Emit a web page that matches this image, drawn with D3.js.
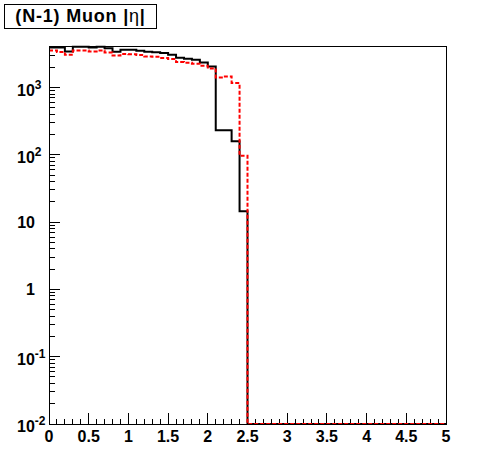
<!DOCTYPE html>
<html><head><meta charset="utf-8">
<script src="https://cdn.jsdelivr.net/npm/d3@7"></script>
<style>html,body{margin:0;padding:0;background:#fff;}svg{display:block;}</style>
</head><body>
<svg id="c" width="496" height="472"></svg>
<script>
// bin edges: 50 bins from 0 to 5
const binLow = 0, binHigh = 5, nBins = 50;
// black (solid) histogram contents, bins of 0.1 starting at 0
const blackValues = [3935,3935,3440,4030,4030,3935,4030,3830,3400,3640,
  3640,3515,3400,3340,3250,3070,2770,2675,2585,2357,
  2055,231,231,159,14.5,0,0,0,0,0,
  0,0,0,0,0,0,0,0,0,0,
  0,0,0,0,0,0,0,0,0,0];
// red (dashed) histogram contents
const redValues = [3550,3365,3070,3550,3550,3434,3550,3318,2993,3140,
  3115,3035,2890,2860,2740,2650,2390,2330,2255,2105,
  1920,1413,1462,1166,97,0,0,0,0,0,
  0,0,0,0,0,0,0,0,0,0,
  0,0,0,0,0,0,0,0,0,0];
const xTickLabels = ["0","0.5","1","1.5","2","2.5","3","3.5","4","4.5","5"];
const yTickLabels = [{v:1e-2,b:"10",e:"-2"},{v:1e-1,b:"10",e:"-1"},{v:1,b:"1",e:""},{v:10,b:"10",e:""},{v:100,b:"10",e:"2"},{v:1000,b:"10",e:"3"}];
const titleText = "(N-1) Muon |";
const titleEta = "η";

const L = 49, R = 446, T = 46, B = 424;
const yMin = 0.01, yMax = Math.pow(10, -2 + (B - T) / 67.3);
const svg = d3.select("#c");
const x = d3.scaleLinear().domain([binLow, binHigh]).range([L, R]);
const y = d3.scaleLog().domain([yMin, yMax]).range([B, T]);
const font = "'Liberation Sans', Arial, Helvetica, sans-serif";

// ticks x
const g = svg.append("g");
for (let i = 0; i <= 50; i++) {
  const v = i / 10;
  const major = i % 5 === 0;
  g.append("line").attr("x1", x(v)).attr("x2", x(v)).attr("y1", B).attr("y2", B - (major ? 11 : 5.5))
    .attr("stroke", "#000").attr("stroke-width", 1).attr("shape-rendering", "crispEdges");
}
xTickLabels.forEach((t, i) => {
  g.append("text").attr("x", x(i * 0.5)).attr("y", 442).attr("text-anchor", "middle")
    .attr("font-family", font).attr("font-weight", "bold").attr("font-size", 16).text(t);
});
// ticks y
for (let e = -2; e <= 3; e++) {
  for (let m = 1; m <= 9; m++) {
    const v = m * Math.pow(10, e);
    if (v > yMax) continue;
    const major = m === 1;
    g.append("line").attr("x1", L).attr("x2", L + (major ? 11 : 5.5)).attr("y1", y(v)).attr("y2", y(v))
      .attr("stroke", "#000").attr("stroke-width", 1).attr("shape-rendering", "crispEdges");
  }
}
yTickLabels.forEach(t => {
  const tx = g.append("text").attr("font-family", font).attr("font-weight", "bold").attr("font-size", 16)
    .attr("y", y(t.v) + (t.e ? 8 : 6));
  if (t.e) {
    tx.attr("x", 17).attr("text-anchor", "start");
    tx.append("tspan").text(t.b);
    tx.append("tspan").attr("font-size", 12).attr("dy", -7).text(t.e);
  } else {
    tx.attr("x", 35).attr("text-anchor", "end").text(t.b);
  }
});

// histograms
function stepPath(vals) {
  const p = d3.path();
  vals.forEach((v, i) => {
    const x0 = x(binLow + i * (binHigh - binLow) / nBins), x1 = x(binLow + (i + 1) * (binHigh - binLow) / nBins);
    const yy = v > yMin ? y(v) : B;
    if (i === 0) p.moveTo(x0, yy); else p.lineTo(x0, yy);
    p.lineTo(x1, yy);
  });
  return p.toString();
}
svg.append("path").attr("d", stepPath(blackValues)).attr("fill", "none").attr("stroke", "#000").attr("stroke-width", 2);
svg.append("path").attr("d", stepPath(redValues)).attr("fill", "none").attr("stroke", "#ff0000").attr("stroke-width", 2).attr("stroke-dasharray", "4,2");

// frame
svg.append("rect").attr("x", L).attr("y", T).attr("width", R - L).attr("height", B - T)
  .attr("fill", "none").attr("stroke", "#000").attr("stroke-width", 1).attr("shape-rendering", "crispEdges");

// title box
svg.append("rect").attr("x", 4.5).attr("y", 4.5).attr("width", 152).attr("height", 24)
  .attr("fill", "#fff").attr("stroke", "#000").attr("stroke-width", 1);
const tt = svg.append("text").attr("x", 80.5).attr("y", 22).attr("text-anchor", "middle")
  .attr("font-family", font).attr("font-weight", "bold").attr("font-size", 18).attr("letter-spacing", 0.8);
tt.append("tspan").text(titleText);
tt.append("tspan").attr("font-weight", "normal").text(titleEta);
tt.append("tspan").text("|");
</script>
</body></html>
